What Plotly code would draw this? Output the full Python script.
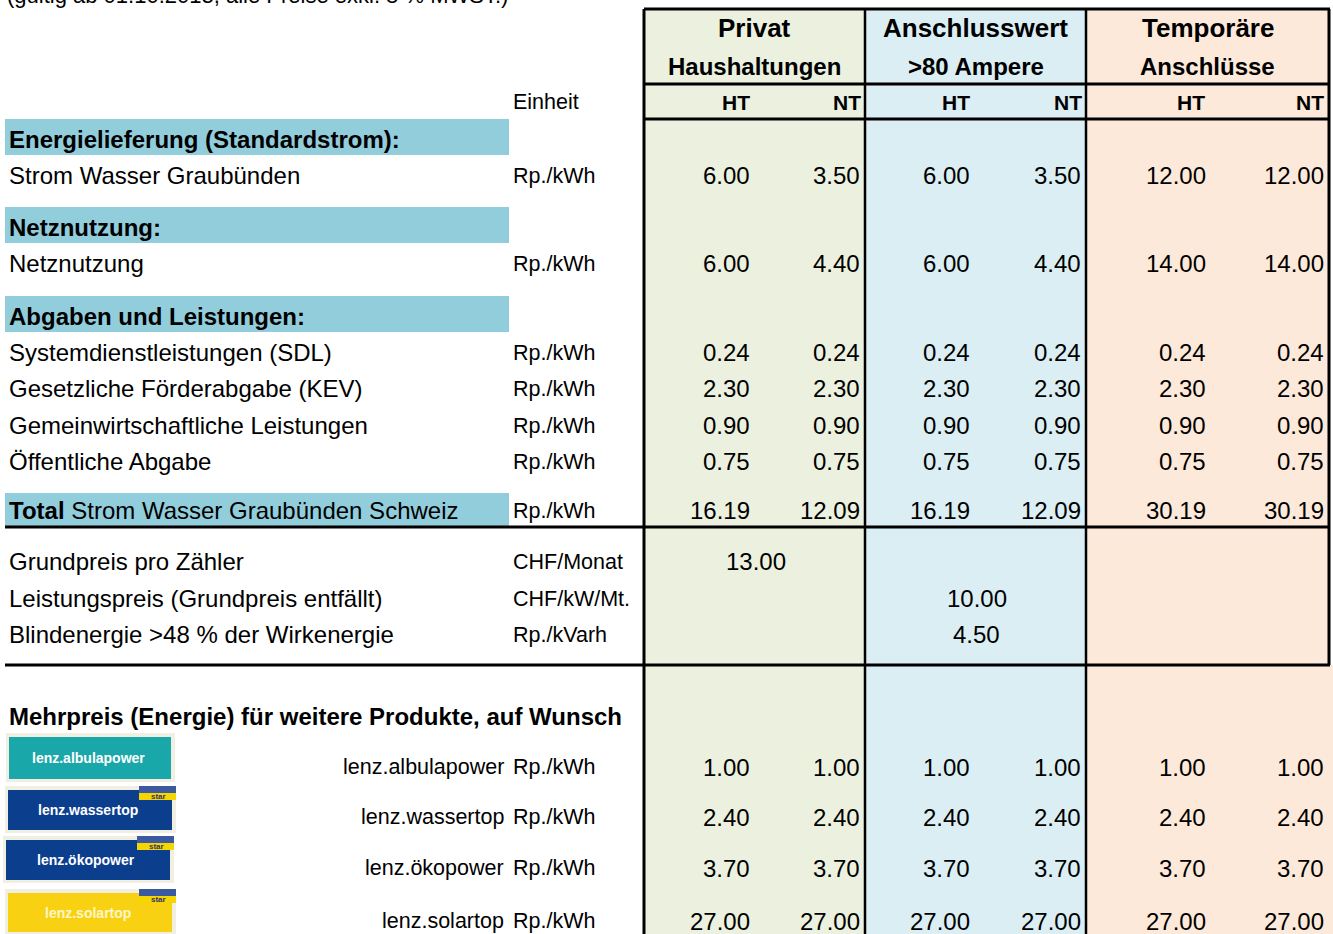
import plotly.graph_objects as go

# ---------------- data ----------------
note_text = "(gültig ab 01.10.2013, alle Preise exkl. 8 % MWST.)"
groups = ["Privat", "Anschlusswert", "Temporäre"]
group_sub = ["Haushaltungen", ">80 Ampere", "Anschlüsse"]
tariffs = ["HT", "NT"]
unit_header = "Einheit"

sections = ["Energielieferung (Standardstrom):", "Netznutzung:", "Abgaben und Leistungen:"]
energy_labels = ["Strom Wasser Graubünden", "Netznutzung", "Systemdienstleistungen (SDL)",
                 "Gesetzliche Förderabgabe (KEV)", "Gemeinwirtschaftliche Leistungen",
                 "Öffentliche Abgabe"]
energy_units = ["Rp./kWh", "Rp./kWh", "Rp./kWh", "Rp./kWh", "Rp./kWh", "Rp./kWh"]
privat_ht = [6.00, 6.00, 0.24, 2.30, 0.90, 0.75]
privat_nt = [3.50, 4.40, 0.24, 2.30, 0.90, 0.75]
anschluss_ht = [6.00, 6.00, 0.24, 2.30, 0.90, 0.75]
anschluss_nt = [3.50, 4.40, 0.24, 2.30, 0.90, 0.75]
temporaer_ht = [12.00, 14.00, 0.24, 2.30, 0.90, 0.75]
temporaer_nt = [12.00, 14.00, 0.24, 2.30, 0.90, 0.75]

total_label_bold = "Total"
total_label_rest = " Strom Wasser Graubünden Schweiz"
total_unit = "Rp./kWh"
total_values = [16.19, 12.09, 16.19, 12.09, 30.19, 30.19]

fixed_labels = ["Grundpreis pro Zähler", "Leistungspreis (Grundpreis entfällt)",
                "Blindenergie >48 % der Wirkenergie"]
fixed_units = ["CHF/Monat", "CHF/kW/Mt.", "Rp./kVarh"]
fixed_values = [13.00, 10.00, 4.50]
fixed_group = [0, 1, 1]

extra_title = "Mehrpreis (Energie) für weitere Produkte, auf Wunsch"
products = ["lenz.albulapower", "lenz.wassertop", "lenz.ökopower", "lenz.solartop"]
product_units = ["Rp./kWh", "Rp./kWh", "Rp./kWh", "Rp./kWh"]
product_prices = [1.00, 2.40, 3.70, 27.00]
product_star = [False, True, True, True]

# ---------------- layout / style ----------------
W, H = 1333, 934
FONT = "Liberation Sans, Arial, sans-serif"
GROUP_BOUNDS = [644, 865, 1086, 1329]
GROUP_FILL = ["#EBF1DE", "#DAEEF3", "#FDE9D9"]
VAL_X = [[752, 862], [972, 1083], [1208, 1326]]
HT_X = [[736, 863], [956, 1084], [1191, 1326]]
LABEL_FILL = "#92CDDC"
X_LABEL, X_UNIT = 7, 511
TOP = 9
Y_GROUP, Y_SUB, Y_HT = 28, 66, 102
SECTION_Y = [137, 225, 314]
SECTION_ROWS = [[0], [1], [2, 3, 4, 5]]
ENERGY_Y = [175, 263, 352, 388, 425, 461]
TOTAL_Y = 510
FIXED_Y = [561, 598, 634]
LINE_Y = [527, 665]
EXTRA_Y = 716
PRODUCT_Y = [767, 817, 868, 921]
LOGO_BOX = [(9, 171, 737, 779), (8, 172, 790, 830), (6, 170, 840, 880), (8, 172, 893, 932)]
LOGO_FILL = ["#1AA7A9", "#0C3E8E", "#0C3E8E", "#F8D212"]
FS = 24      # main text size
FU = 21.5    # unit text size

shapes, anns = [], []


def rect(x0, x1, y0, y1, fill, layer="below"):
    shapes.append(dict(type="rect", xref="x", yref="y", x0=x0, x1=x1, y0=y0, y1=y1,
                       fillcolor=fill, line=dict(width=0), layer=layer))


def line(x0, y0, x1, y1, w=3):
    shapes.append(dict(type="line", xref="x", yref="y", x0=x0, x1=x1, y0=y0, y1=y1,
                       line=dict(color="black", width=w), layer="above"))


def text(x, y, s, size=FS, anchor="left", bold=False, color="black"):
    anns.append(dict(x=x, y=y, xref="x", yref="y", text=("<b>%s</b>" % s) if bold else s,
                     showarrow=False, xanchor=anchor, yanchor="middle",
                     font=dict(family=FONT, size=size, color=color)))


# column fills
for g in range(3):
    rect(GROUP_BOUNDS[g], GROUP_BOUNDS[g + 1] if g < 2 else W, TOP, H, GROUP_FILL[g])
rect(GROUP_BOUNDS[3], W, TOP, LINE_Y[1], "white")

# note at top (cut by the page edge, as in the original)
anns.append(dict(x=X_LABEL - 2, y=1, xref="x", yref="paper", text=note_text, showarrow=False,
                 xanchor="left", yanchor="bottom", yshift=-10,
                 font=dict(family=FONT, size=22, color="black")))

# header texts
for g in range(3):
    cx = (GROUP_BOUNDS[g] + GROUP_BOUNDS[g + 1]) / 2
    text(cx, Y_GROUP, groups[g], size=26, anchor="center", bold=True)
    text(cx, Y_SUB, group_sub[g], size=24, anchor="center", bold=True)
    text(HT_X[g][0], Y_HT, tariffs[0], size=21, anchor="center", bold=True)
    text(HT_X[g][1], Y_HT, tariffs[1], size=21, anchor="right", bold=True)
text(X_UNIT, Y_HT, unit_header, size=FU)

# sections
value_cols = [privat_ht, privat_nt, anschluss_ht, anschluss_nt, temporaer_ht, temporaer_nt]
for s, sy in enumerate(SECTION_Y):
    rect(5, 509, sy - 18, sy + 18, LABEL_FILL)
    text(X_LABEL, sy + 2, sections[s], bold=True)
    for i in SECTION_ROWS[s]:
        y = ENERGY_Y[i]
        text(X_LABEL, y, energy_labels[i])
        text(X_UNIT, y + 1, energy_units[i], size=FU)
        for c, col in enumerate(value_cols):
            text(VAL_X[c // 2][c % 2], y, "%.2f" % col[i], anchor="right")

# total
rect(5, 509, TOTAL_Y - 17, TOTAL_Y + 16, LABEL_FILL)
text(X_LABEL, TOTAL_Y, "<b>%s</b>%s" % (total_label_bold, total_label_rest))
text(X_UNIT, TOTAL_Y + 1, total_unit, size=FU)
for c, v in enumerate(total_values):
    text(VAL_X[c // 2][c % 2], TOTAL_Y, "%.2f" % v, anchor="right")

# fixed prices
for i, y in enumerate(FIXED_Y):
    text(X_LABEL, y, fixed_labels[i])
    text(X_UNIT, y + 1, fixed_units[i], size=FU)
    g = fixed_group[i]
    cx = (GROUP_BOUNDS[g] + GROUP_BOUNDS[g + 1]) / 2 + 1
    text(cx, y, "%.2f" % fixed_values[i], anchor="center")

# extra products
text(X_LABEL, EXTRA_Y, extra_title, bold=True)
for i, y in enumerate(PRODUCT_Y):
    x0, x1, y0, y1 = LOGO_BOX[i]
    rect(x0 - 3, x1 + 4, y0 - 4, y1 + 3, "#F1EEE2")
    rect(x0, x1, y0, y1, LOGO_FILL[i])
    text((x0 + x1) / 2 - 2, (y0 + y1) / 2, products[i], size=14, anchor="center", bold=True,
         color="#FFFFFF" if i < 3 else "#FFF6C8")
    if product_star[i]:
        rect(x1 - 33, x1 + 4, y0 - 4, y0 + 3, "#3C5AA0", layer="above")
        rect(x1 - 33, x1 + 4, y0 + 3, y0 + 10, "#F6D600", layer="above")
        text(x1 - 14, y0 + 6, "star", size=8, anchor="center", bold=True, color="#333366")
    text(506, y, products[i], size=FU, anchor="right")
    text(X_UNIT, y, product_units[i], size=FU)
    for c in range(6):
        text(VAL_X[c // 2][c % 2], y, "%.2f" % product_prices[i], anchor="right")

# grid lines
line(GROUP_BOUNDS[0], TOP, GROUP_BOUNDS[3] + 1, TOP)
line(GROUP_BOUNDS[0], 84, GROUP_BOUNDS[3] + 1, 84)
line(GROUP_BOUNDS[0], 119, GROUP_BOUNDS[3] + 1, 119)
for ly in LINE_Y:
    line(5, ly, GROUP_BOUNDS[3] + 1, ly)
line(GROUP_BOUNDS[0], TOP, GROUP_BOUNDS[0], H, w=3)
line(GROUP_BOUNDS[1], TOP, GROUP_BOUNDS[1], H, w=2.5)
line(GROUP_BOUNDS[2], TOP, GROUP_BOUNDS[2], H, w=2.5)
line(GROUP_BOUNDS[3], TOP, GROUP_BOUNDS[3], LINE_Y[1], w=3)

fig = go.Figure()
fig.add_trace(go.Scatter(x=[0, W], y=[0, H], mode="markers", marker=dict(opacity=0),
                         hoverinfo="skip", showlegend=False))
fig.update_layout(
    width=W, height=H, margin=dict(l=0, r=0, t=0, b=0),
    paper_bgcolor="white", plot_bgcolor="white",
    xaxis=dict(range=[0, W], visible=False, fixedrange=True),
    yaxis=dict(range=[H, 0], visible=False, fixedrange=True),
    shapes=shapes, annotations=anns, showlegend=False,
)
fig.write_html("out.html", config={"displayModeBar": False},
               post_script="document.body.style.margin='0';")
